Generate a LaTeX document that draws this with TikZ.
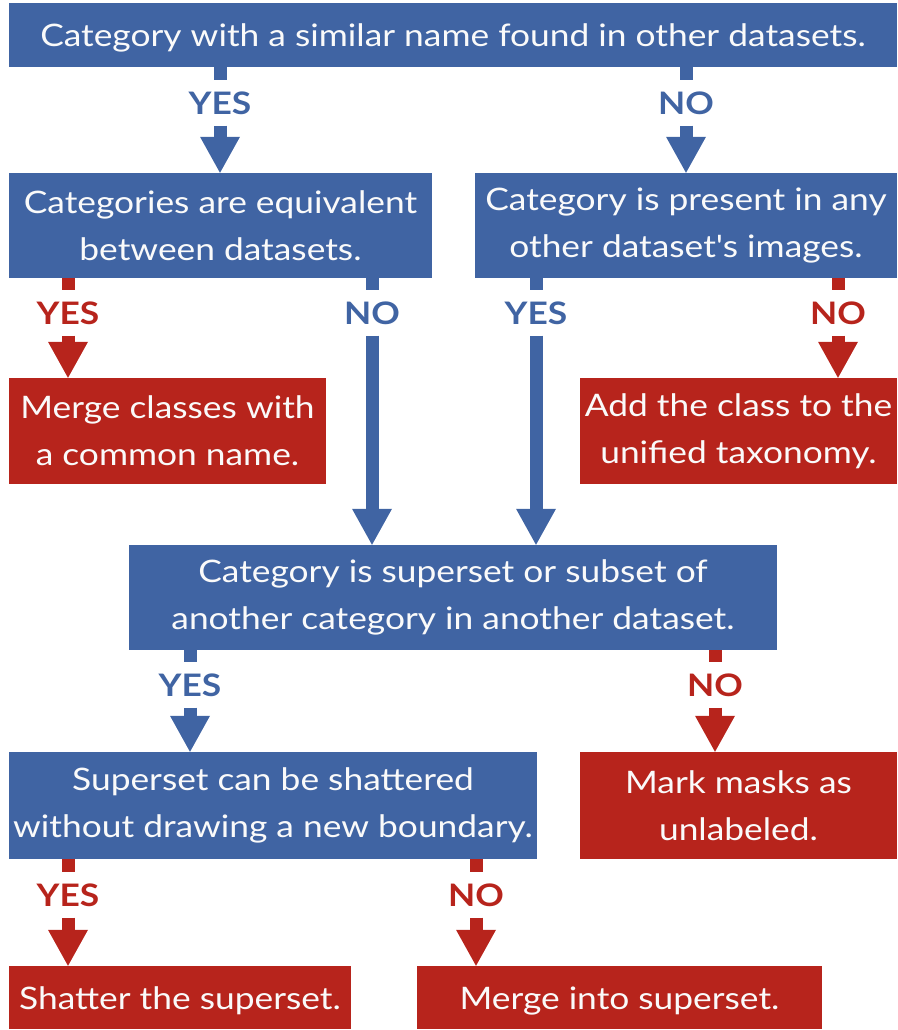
\documentclass[tikz,border=0pt]{standalone}
\usepackage{fontspec}
\setmainfont{Lato}[FakeStretch=1.14, Ligatures=TeXOff]
\usetikzlibrary{arrows.meta}
\definecolor{flowblue}{RGB}{64,100,163}
\definecolor{flowred}{RGB}{183,36,28}
\definecolor{boxtext}{RGB}{250,250,250}
\begin{document}
\begin{tikzpicture}[x=1pt,y=-1pt,
  box/.style={rectangle, inner sep=0pt, text=boxtext, align=center,
    font=\fontsize{31}{47}\selectfont},
  oneline/.style={text height=30pt, text depth=6pt},
  bluebox/.style={box, fill=flowblue},
  redbox/.style={box, fill=flowred},
  answer/.style={inner xsep=0pt, inner ysep=11.5pt, text height=22pt, text depth=0pt,
    font=\bfseries\fontsize{31}{31}\selectfont},
  stem/.style={line width=13pt},
  flow/.style={line width=13pt, -{Triangle[length=36pt,width=40pt,line width=0pt]}},
]
\useasboundingbox (0,0) rectangle (897,1030);

% decision and outcome boxes
\node[bluebox, oneline, minimum width=888pt, minimum height=64pt] (b1) at (453,35)
  {Category with a similar name found in other datasets.};
\node[bluebox, minimum width=423pt, minimum height=105pt] (b2) at (220.5,225.5)
  {Categories are equivalent\\between datasets.};
\node[bluebox, minimum width=422pt, minimum height=105pt] (b3) at (686,225.5)
  {Category is present in any\\other dataset's images.};
\node[redbox, minimum width=317pt, minimum height=106pt] (b4) at (167.5,431)
  {Merge classes with\\a common name.};
\node[redbox, minimum width=317pt, minimum height=106pt] (b5) at (738.5,431)
  {Add the class to the\\unified taxonomy.};
\node[bluebox, minimum width=648pt, minimum height=105pt] (b6) at (453,597.5)
  {Category is superset or subset of\\another category in another dataset.};
\node[bluebox, minimum width=528pt, minimum height=107pt] (b7) at (273,805.5)
  {Superset can be shattered\\without drawing a new boundary.};
\node[redbox, minimum width=317pt, minimum height=107pt] (b8) at (738.5,805.5)
  {Mark masks as\\unlabeled.};
\node[redbox, oneline, minimum width=342pt, minimum height=63pt] (b9) at (180,997.5)
  {Shatter the superset.};
\node[redbox, oneline, minimum width=405pt, minimum height=63pt] (b10) at (619.5,997.5)
  {Merge into superset.};

% answer labels
\node[answer, text=flowblue] (a1) at (220,103) {YES};
\node[answer, text=flowblue] (a2) at (686,103) {NO};
\node[answer, text=flowred]  (a3) at (68,313) {YES};
\node[answer, text=flowblue] (a4) at (372,313) {NO};
\node[answer, text=flowblue] (a5) at (536,313) {YES};
\node[answer, text=flowred]  (a6) at (838,313) {NO};
\node[answer, text=flowblue] (a7) at (190,685) {YES};
\node[answer, text=flowred]  (a8) at (715,685) {NO};
\node[answer, text=flowred]  (a9) at (68,895) {YES};
\node[answer, text=flowred]  (a10) at (476,895) {NO};

% connectors
\foreach \src/\lab/\dst/\col in {b1/a1/b2/flowblue, b1/a2/b3/flowblue,
    b2/a3/b4/flowred, b2/a4/b6/flowblue, b3/a5/b6/flowblue, b3/a6/b5/flowred,
    b6/a7/b7/flowblue, b6/a8/b8/flowred, b7/a9/b9/flowred, b7/a10/b10/flowred} {
  \draw[stem, \col] (\src.south -| \lab) -- (\lab.north);
  \draw[flow, \col] (\lab.south) -- (\dst.north -| \lab);
}
\end{tikzpicture}
\end{document}
